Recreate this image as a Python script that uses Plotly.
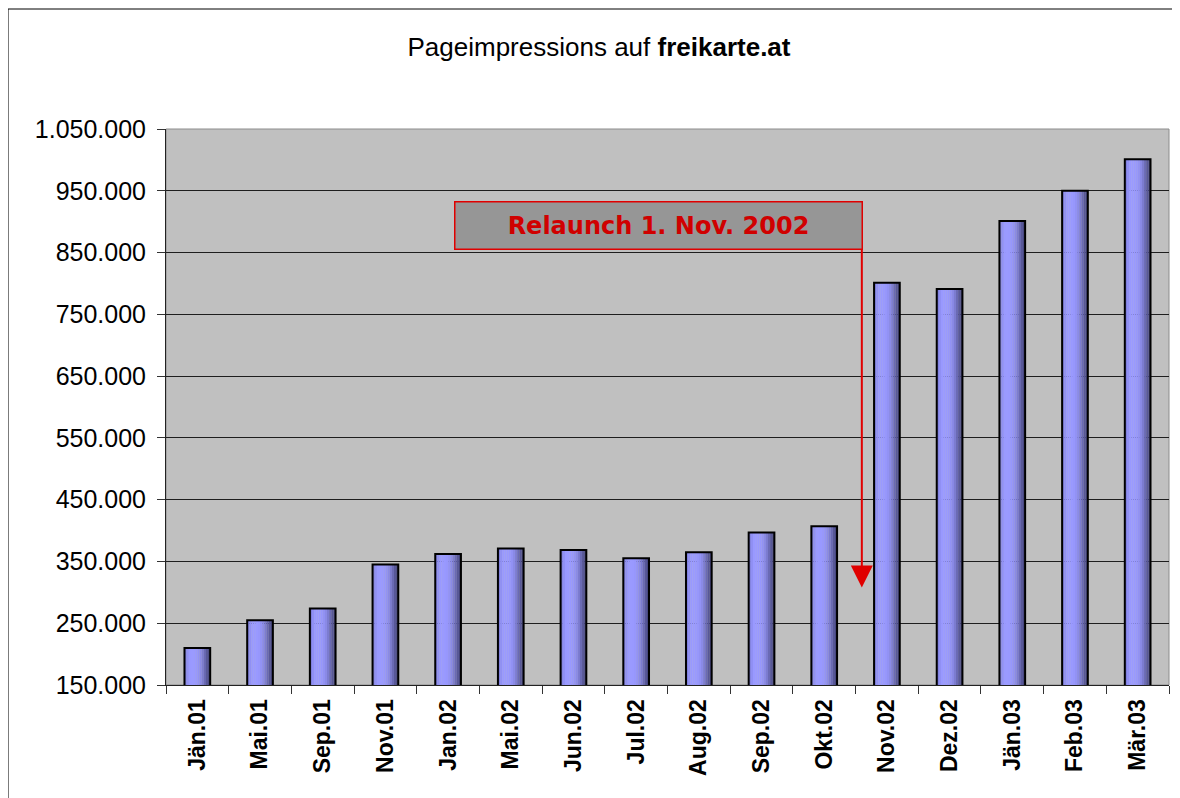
import plotly.graph_objects as go

# monthly page impressions
months = ["Jän.01", "Mai.01", "Sep.01", "Nov.01", "Jan.02", "Mai.02", "Jun.02", "Jul.02",
          "Aug.02", "Sep.02", "Okt.02", "Nov.02", "Dez.02", "Jän.03", "Feb.03", "Mär.03"]
impressions = [210000, 255000, 274000, 345000, 362000, 371000, 368500, 355000,
               365000, 397000, 407000, 801000, 791000, 901000, 950000, 1001000]

y_ticks = [150000, 250000, 350000, 450000, 550000, 650000, 750000, 850000, 950000, 1050000]
y_labels = ["150.000", "250.000", "350.000", "450.000", "550.000", "650.000",
            "750.000", "850.000", "950.000", "1.050.000"]

relaunch_text = "Relaunch 1. Nov. 2002"

# cylinder-ish shading: colours across the bar, left to right
shade = ["#8080DE", "#9090F4", "#9999FF", "#9A9AFF", "#9999FF", "#9797FC",
         "#9292F4", "#8A8AE6", "#7C7CD0", "#6A6AB4", "#585898", "#484880"]

bar_w = 0.41
fig = go.Figure()
n = len(shade)
for i, c in enumerate(shade):
    fig.add_trace(go.Bar(
        x=months, y=impressions,
        width=bar_w / n + 0.002,
        offset=-bar_w / 2 + i * bar_w / n,
        marker=dict(color=c, line=dict(width=0)),
        showlegend=False, hoverinfo="skip"))
# outline
fig.add_trace(go.Bar(
    x=months, y=impressions, width=bar_w, offset=-bar_w / 2,
    marker=dict(color="rgba(0,0,0,0)", line=dict(color="#000000", width=2)),
    showlegend=False))

fig.update_layout(
    width=1172, height=790,
    margin=dict(l=158, r=11, t=121, b=113),
    paper_bgcolor="white", plot_bgcolor="#C0C0C0",
    barmode="overlay",
    font=dict(family="Liberation Sans, Arial", color="black"),
    title=dict(text="Pageimpressions auf <b>freikarte.at</b>",
               x=(599 - 8) / 1172, xanchor="center", y=1 - 39 / 790, yanchor="middle",
               font=dict(size=26, color="black")),
    xaxis=dict(type="category", tickson="boundaries", ticks="outside", ticklen=8,
               tickcolor="#333333", showline=True, linecolor="#222222", linewidth=1,
               tickangle=-90, showgrid=False, ticklabelstandoff=4,
               tickvals=months, ticktext=["<b>%s</b>" % m for m in months],
               tickfont=dict(size=23)),
    yaxis=dict(range=[150000, 1050000], tickvals=y_ticks, ticktext=y_labels,
               ticks="outside", ticklen=8, tickcolor="#333333",
               ticklabelstandoff=6,
               showline=True, linecolor="#222222", linewidth=1,
               gridcolor="#1E1E1E", gridwidth=1, zeroline=False,
               tickfont=dict(size=25)),
    shapes=[
        # plot area border (top/right in grey)
        dict(type="rect", xref="paper", yref="paper", x0=0, x1=1, y0=0, y1=1,
             line=dict(color="#8C8C8C", width=1), layer="below"),
        # outer chart frame
        dict(type="rect", xref="paper", yref="paper", x0=-0.1575, x1=1.2,
             y0=-0.4, y1=(685 - 9) / 556, line=dict(color="black", width=1)),
    ],
    annotations=[
        dict(x=10.6, y=308000, xref="x", yref="y", ax=10.6, ay=893000,
             axref="x", ayref="y", text="", showarrow=True, arrowhead=2,
             arrowsize=2.2, arrowwidth=2, arrowcolor="#E00000"),
        dict(x=7.35, y=893000, xref="x", yref="y", showarrow=False,
             text="<b>%s</b>" % relaunch_text, width=404, height=44,
             bgcolor="#969696", bordercolor="#E00000", borderwidth=1.5,
             font=dict(family="DejaVu Sans", size=24, color="#D00000")),
    ],
)

fig.write_html("out.html")
